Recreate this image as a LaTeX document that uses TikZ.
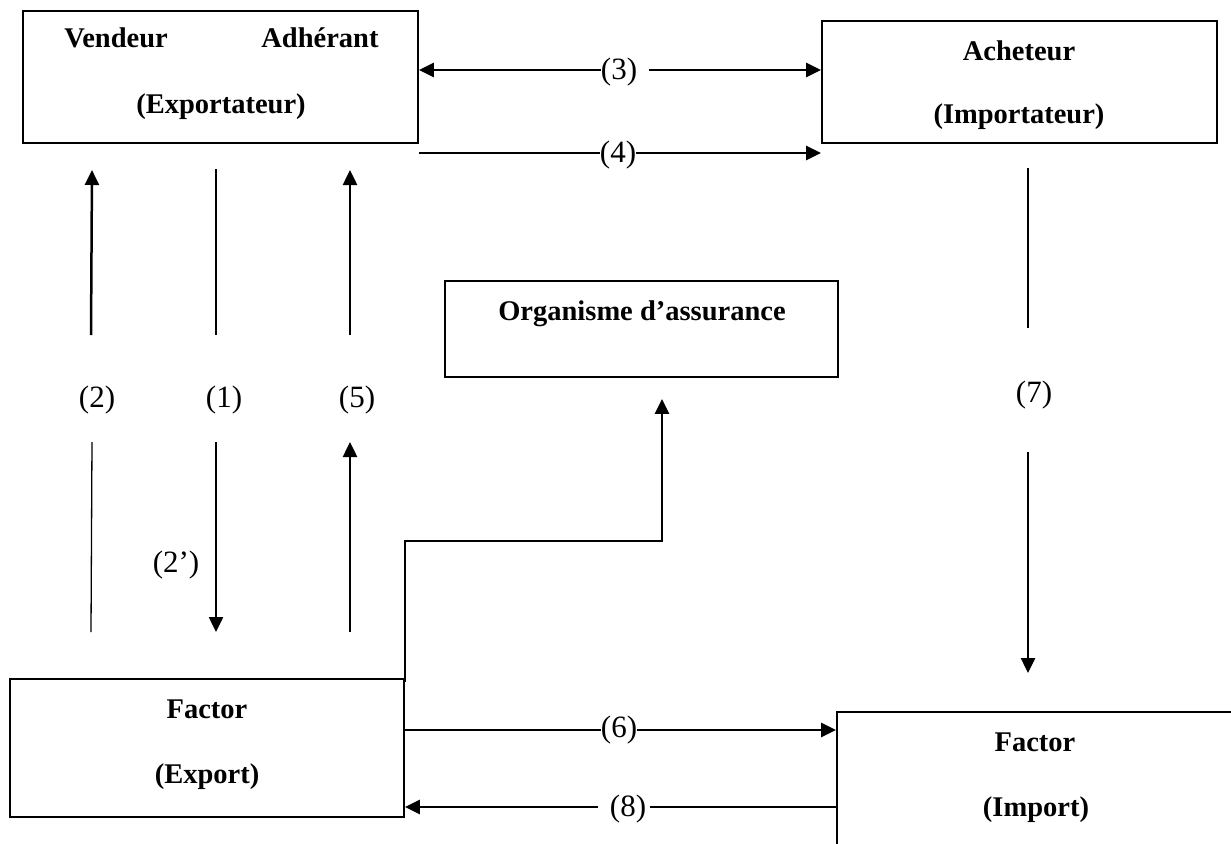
\documentclass[tikz,border=0pt]{standalone}
\usepackage{fontspec}
\setmainfont{Liberation Serif}
\usetikzlibrary{arrows.meta,calc}
\begin{document}
\begin{tikzpicture}[x=1pt,y=-1pt,
  box/.style={draw,line width=1.8pt,rectangle,inner sep=0pt},
  bt/.style={font=\fontsize{28.5}{34}\selectfont\bfseries,inner sep=0pt,anchor=base},
  lab/.style={font=\fontsize{31}{36}\selectfont,inner sep=0pt,anchor=base},
  thinln/.style={line width=1.3pt},
  thickln/.style={line width=2.5pt},
  tip/.style={-{Triangle[length=15pt,width=14pt]}},
]
\useasboundingbox (0,0) rectangle (1231,843);
\clip (0,0) rectangle (1231,843);

% boxes
\node[box,minimum width=395pt,minimum height=132pt] (va)  at (220.5,77) {};
\node[box,minimum width=395pt,minimum height=122pt] (ach) at (1019.5,82) {};
\node[box,minimum width=393pt,minimum height=96pt]  (org) at (641.5,329) {};
\node[box,minimum width=394pt,minimum height=138pt] (fe)  at (207,748) {};
\node[box,minimum width=396pt,minimum height=138pt] (fi)  at (1035,781) {};

% box texts
\node[bt] (t1) at (116,48) {Vendeur};
\node[bt] (t2) at (320,48) {Adhérant};
\node[bt] (t3) at (221,113) {(Exportateur)};
\node[bt] (t4) at (1019,60) {Acheteur};
\node[bt] (t5) at (1019,123) {(Importateur)};
\node[bt] (t6) at (642,320) {Organisme d’assurance};
\node[bt] (t7) at (207,718) {Factor};
\node[bt] (t8) at (207,783) {(Export)};
\node[bt] (t9) at (1035,751) {Factor};
\node[bt] (t10) at (1036,816) {(Import)};

% labels
\node[lab] (l2)  at (97,407) {(2)};
\node[lab] (l1)  at (224,407) {(1)};
\node[lab] (l5)  at (357,407) {(5)};
\node[lab] (l2p) at (176,572) {(2’)};
\node[lab] (l7)  at (1034,402) {(7)};
\node[lab] (l3)  at (619,80) {(3)};
\node[lab] (l4)  at (618,162) {(4)};
\node[lab] (l6)  at (619,737) {(6)};
\node[lab] (l8)  at (628,816) {(8)};

% horizontal connectors
\coordinate (h3) at (619,70);
\coordinate (h4) at (618,153);
\coordinate (h6) at (619,730);
\coordinate (h8) at (628,807);
\draw[thickln,tip] (h3 -| l3.west) -- (h3 -| va.east);
\draw[thickln,tip] ($(h3 -| l3.east)+(12,0)$) -- (h3 -| ach.west);
\draw[thinln] (h4 -| va.east) -- (h4 -| l4.west);
\draw[thickln,tip] (h4 -| l4.east) -- (h4 -| ach.west);
\draw[thinln] (h6 -| fe.east) -- (h6 -| l6.west);
\draw[thickln,tip] (h6 -| l6.east) -- (h6 -| fi.west);
\draw[thickln,tip] ($(h8 -| l8.west)+(-12,0)$) -- (h8 -| fe.east);
\draw[thinln] ($(h8 -| l8.east)+(4,0)$) -- (h8 -| fi.west);

% vertical connectors
\coordinate (v2a) at (91,335);  \coordinate (v2b) at (92,170);
\coordinate (v2c) at (92,442);  \coordinate (v2d) at (91,632);
\coordinate (v1a) at (216,169); \coordinate (v1b) at (216,335);
\coordinate (v1c) at (216,442); \coordinate (v1d) at (216,632);
\coordinate (v5a) at (350,335); \coordinate (v5b) at (350,170);
\coordinate (v5c) at (350,632); \coordinate (v5d) at (350,442);
\coordinate (v7a) at (1028,168); \coordinate (v7b) at (1028,328);
\coordinate (v7c) at (1028,452); \coordinate (v7d) at (1028,673);
\draw[thickln,tip] (v2a) -- (v2b);
\draw[thinln] (v2c) -- (v2d);
\draw[thinln] (v1a) -- (v1b);
\draw[thickln,tip] (v1c) -- (v1d);
\draw[thickln,tip] (v5a) -- (v5b);
\draw[thickln,tip] (v5c) -- (v5d);
\draw[thinln] (v7a) -- (v7b);
\draw[thickln,tip] (v7c) -- (v7d);

% factor export to insurance
\coordinate (k1) at (662,541);
\draw[thickln,tip] ($(fe.north east)+(0,4)$) |- (k1) -- ($(org.south -| k1)+(0,21)$);
\end{tikzpicture}
\end{document}
